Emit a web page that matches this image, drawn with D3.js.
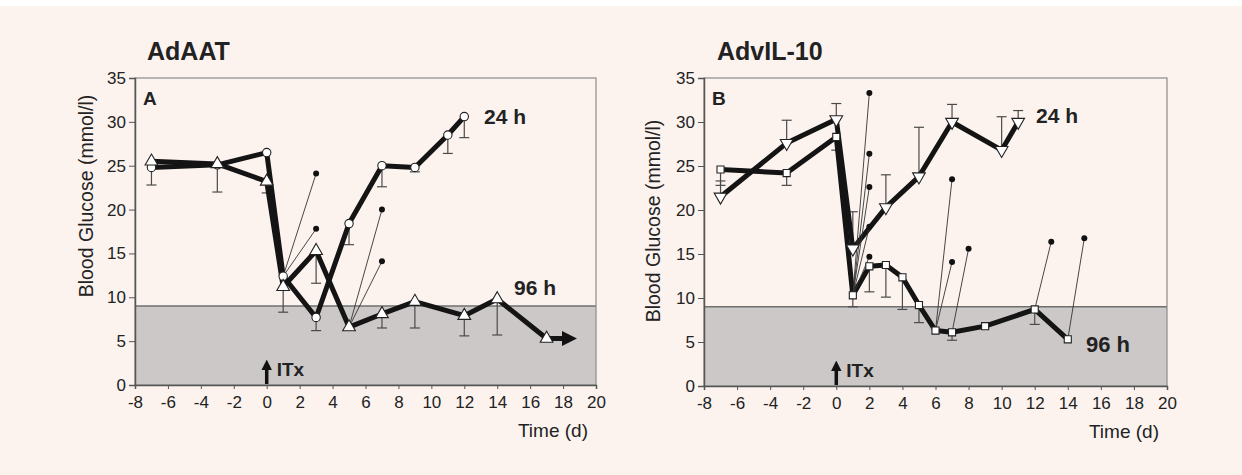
<!DOCTYPE html>
<html>
<head>
<meta charset="utf-8">
<script src="https://cdn.jsdelivr.net/npm/d3@7"></script>
<style>
  body { margin: 0; background: #fcf3ef; }
  text { font-family: "Liberation Sans", Arial, sans-serif; fill: #222; }
</style>
</head>
<body>
<div id="chart"></div>
<script>
// tick labels
const xTicks = [-8, -6, -4, -2, 0, 2, 4, 6, 8, 10, 12, 14, 16, 18, 20];
const yTicks = [0, 5, 10, 15, 20, 25, 30, 35];
const normoglycemia = 9;

// panel A: AdAAT
const aatDays24 = [-7, -3, 0, 1, 3, 5, 7, 9, 11, 12];
const aatGlucose24 = [24.8, 25.1, 26.5, 12.4, 7.7, 18.4, 25.0, 24.8, 28.5, 30.6];
const aatError24 = [22.8, null, null, null, 6.2, 16.0, 22.6, 24.3, 26.4, 28.2];
const aatDays96 = [-7, -3, 0, 1, 3, 5, 7, 9, 12, 14, 17];
const aatGlucose96 = [25.5, 25.2, 23.2, 11.2, 15.3, 6.6, 8.1, 9.5, 7.9, 9.8, 5.3];
const aatError96 = [null, 22.0, 21.9, 8.3, 11.6, 6.3, 6.5, 6.5, 5.6, 5.7, null];
const aatArrowEnd = 18.6;
// individual rejecting animals
const aatRejectFromDay = [1, 1, 5, 5];
const aatRejectFromValue = [12.4, 12.4, 6.6, 6.6];
const aatRejectToDay = [3, 3, 7, 7];
const aatRejectToValue = [24.1, 17.8, 20.0, 14.1];

// panel B: AdvIL-10
const il10Days24 = [-7, -3, 0, 1, 3, 5, 7, 10, 11];
const il10Glucose24 = [21.5, 27.6, 30.3, 15.6, 20.3, 23.8, 30.0, 26.8, 30.0];
const il10Error24 = [23.3, 30.2, 32.1, 19.8, 24.0, 29.4, 32.0, 30.6, 31.3];
const il10Days96 = [-7, -3, 0, 1, 2, 3, 4, 5, 6, 7, 9, 12, 14];
const il10Glucose96 = [24.6, 24.2, 28.3, 10.3, 13.6, 13.75, 12.35, 9.2, 6.3, 6.1, 6.8, 8.7, 5.3];
const il10Error96 = [22.8, 22.8, 26.8, 9.0, 10.7, 10.1, 8.7, 7.2, null, 5.2, null, 7.0, null];
const il10RejectFromDay = [1, 1, 1, 1, 1, 6, 6, 7, 12, 14];
const il10RejectFromValue = [10.3, 10.3, 10.3, 10.3, 10.3, 6.3, 6.3, 6.1, 8.7, 5.3];
const il10RejectToDay = [2, 2, 2, 2, 2, 7, 7, 8, 13, 15];
const il10RejectToValue = [33.3, 26.4, 22.6, 18.1, 14.7, 23.5, 14.1, 15.6, 16.4, 16.8];

const zip = (days, values, errors) =>
  days.map((d, i) => ({ day: d, value: values[i], err: errors ? errors[i] : null }));

const panels = [
  {
    left: 135, right: 596, top: 78, bottom: 385,
    title: "AdAAT", titleX: 147, letter: "A",
    yLabelX: 86, yLabelY: 196,
    series: [
      { data: zip(aatDays24, aatGlucose24, aatError24), symbol: d3.symbolCircle, size: 55, rotate: 0, errDir: "down" },
      { data: zip(aatDays96, aatGlucose96, aatError96), symbol: d3.symbolTriangle, size: 70, rotate: 0, errDir: "down", arrowTo: aatArrowEnd }
    ],
    reject: { fx: aatRejectFromDay, fy: aatRejectFromValue, tx: aatRejectToDay, ty: aatRejectToValue },
    labels: [
      { text: "24 h", x: 484, y: 124, size: 21 },
      { text: "96 h", x: 514, y: 295, size: 21 }
    ]
  },
  {
    left: 704, right: 1167, top: 78, bottom: 386,
    title: "AdvIL-10", titleX: 717, letter: "B",
    yLabelX: 653, yLabelY: 221,
    series: [
      { data: zip(il10Days24, il10Glucose24, il10Error24), symbol: d3.symbolTriangle, size: 70, rotate: 180, errDir: "up" },
      { data: zip(il10Days96, il10Glucose96, il10Error96), symbol: d3.symbolSquare, size: 50, rotate: 0, errDir: "down" }
    ],
    reject: { fx: il10RejectFromDay, fy: il10RejectFromValue, tx: il10RejectToDay, ty: il10RejectToValue },
    labels: [
      { text: "24 h", x: 1036, y: 123, size: 21 },
      { text: "96 h", x: 1086, y: 352, size: 22 }
    ]
  }
];

const svg = d3.select("#chart")
  .append("svg")
  .attr("width", 1242)
  .attr("height", 475);

svg.append("rect").attr("width", 1242).attr("height", 475).attr("fill", "#fcf3ef");
svg.append("rect").attr("width", 1242).attr("height", 6).attr("fill", "#ffffff");

const defs = svg.append("defs");
defs.append("marker")
  .attr("id", "head")
  .attr("viewBox", "0 0 10 10")
  .attr("refX", 2)
  .attr("refY", 5)
  .attr("markerWidth", 3)
  .attr("markerHeight", 3)
  .attr("markerUnits", "strokeWidth")
  .attr("orient", "auto")
  .append("path")
  .attr("d", "M0,0L10,5L0,10z")
  .attr("fill", "#111");

panels.forEach(p => {
  const x = d3.scaleLinear().domain([-8, 20]).range([p.left, p.right]);
  const y = d3.scaleLinear().domain([0, 35]).range([p.bottom, p.top]);
  const g = svg.append("g");

  // grey normoglycemic band
  g.append("rect")
    .attr("x", x(-8))
    .attr("y", y(normoglycemia))
    .attr("width", x(20) - x(-8))
    .attr("height", y(0) - y(normoglycemia))
    .attr("fill", "#ccc8c7");
  g.append("line")
    .attr("x1", x(-8)).attr("x2", x(20))
    .attr("y1", y(normoglycemia)).attr("y2", y(normoglycemia))
    .attr("stroke", "#6f6f6f")
    .attr("stroke-width", 1.5);

  // frame
  g.append("rect")
    .attr("x", x(-8))
    .attr("y", y(35))
    .attr("width", x(20) - x(-8))
    .attr("height", y(0) - y(35))
    .attr("fill", "none")
    .attr("stroke", "#8a8a8a")
    .attr("stroke-width", 1.2);

  const yAxis = d3.axisLeft(y).tickValues(yTicks).tickSize(6).tickPadding(3);
  const xAxis = d3.axisBottom(x).tickValues(xTicks).tickSize(4).tickPadding(7)
    .tickFormat(d => d < 0 ? "-" + Math.abs(d) : d);

  const ya = g.append("g").attr("transform", `translate(${x(-8)},0)`).call(yAxis);
  const xa = g.append("g").attr("transform", `translate(0,${y(0)})`).call(xAxis);
  [ya, xa].forEach(a => {
    a.select(".domain").attr("stroke", "#555").attr("stroke-width", 1.5);
    a.selectAll(".tick line").attr("stroke", "#555");
    a.selectAll(".tick text").attr("font-size", 17).attr("fill", "#222")
      .attr("font-family", "Liberation Sans, Arial, sans-serif");
  });

  // texts
  g.append("text").attr("x", p.titleX).attr("y", 60)
    .attr("font-size", 25).attr("font-weight", "bold").attr("fill", "#333")
    .text(p.title);
  g.append("text").attr("x", x(-8) + 8).attr("y", y(35) + 27)
    .attr("font-size", 19).attr("font-weight", "bold")
    .text(p.letter);
  g.append("text")
    .attr("transform", `translate(${p.yLabelX},${p.yLabelY}) rotate(-90)`)
    .attr("text-anchor", "middle")
    .attr("dy", "0.35em")
    .attr("font-size", 19.5)
    .text("Blood Glucose (mmol/l)");
  g.append("text").attr("x", x(20) - 8).attr("y", y(0) + 52)
    .attr("text-anchor", "end")
    .attr("font-size", 19)
    .text("Time (d)");

  // ITx arrow
  g.append("line")
    .attr("x1", x(0)).attr("x2", x(0))
    .attr("y1", y(0) - 1).attr("y2", y(0) - 17)
    .attr("stroke", "#111")
    .attr("stroke-width", 3.5)
    .attr("marker-end", "url(#head)");
  g.append("text").attr("x", x(0) + 10).attr("y", y(0) - 9)
    .attr("font-size", 19).attr("font-weight", "bold")
    .text("ITx");

  // error bars
  p.series.forEach(s => {
    const eb = g.append("g").attr("stroke", "#4a4a4a").attr("stroke-width", 1.2);
    s.data.filter(d => d.err != null).forEach(d => {
      eb.append("line")
        .attr("x1", x(d.day)).attr("x2", x(d.day))
        .attr("y1", y(d.value)).attr("y2", y(d.err));
      eb.append("line")
        .attr("x1", x(d.day) - 5).attr("x2", x(d.day) + 5)
        .attr("y1", y(d.err)).attr("y2", y(d.err));
    });
  });

  // thick mean lines
  const line = d3.line().x(d => x(d.day)).y(d => y(d.value));
  p.series.forEach(s => {
    g.append("path")
      .datum(s.data)
      .attr("d", line)
      .attr("fill", "none")
      .attr("stroke", "#141414")
      .attr("stroke-width", 5)
      .attr("stroke-linejoin", "round");
    if (s.arrowTo) {
      const last = s.data[s.data.length - 1];
      g.append("line")
        .attr("x1", x(last.day)).attr("x2", x(s.arrowTo) - 8)
        .attr("y1", y(last.value)).attr("y2", y(last.value))
        .attr("stroke", "#141414")
        .attr("stroke-width", 5)
        .attr("marker-end", "url(#head)");
    }
  });

  // individual rejecting animals
  const r = p.reject;
  r.fx.forEach((fd, i) => {
    g.append("line")
      .attr("x1", x(fd)).attr("y1", y(r.fy[i]))
      .attr("x2", x(r.tx[i])).attr("y2", y(r.ty[i]))
      .attr("stroke", "#333")
      .attr("stroke-width", 0.9);
    g.append("circle")
      .attr("cx", x(r.tx[i])).attr("cy", y(r.ty[i]))
      .attr("r", 3)
      .attr("fill", "#111");
  });

  // markers
  p.series.forEach(s => {
    const sym = d3.symbol().type(s.symbol).size(s.size);
    g.selectAll(null)
      .data(s.data)
      .enter()
      .append("path")
      .attr("d", sym)
      .attr("transform", d => `translate(${x(d.day)},${y(d.value)}) rotate(${s.rotate})`)
      .attr("fill", "#fff")
      .attr("stroke", "#222")
      .attr("stroke-width", 1.1);
  });

  p.labels.forEach(l => {
    g.append("text").attr("x", l.x).attr("y", l.y)
      .attr("font-size", l.size).attr("font-weight", "bold")
      .text(l.text);
  });
});
</script>
</body>
</html>
